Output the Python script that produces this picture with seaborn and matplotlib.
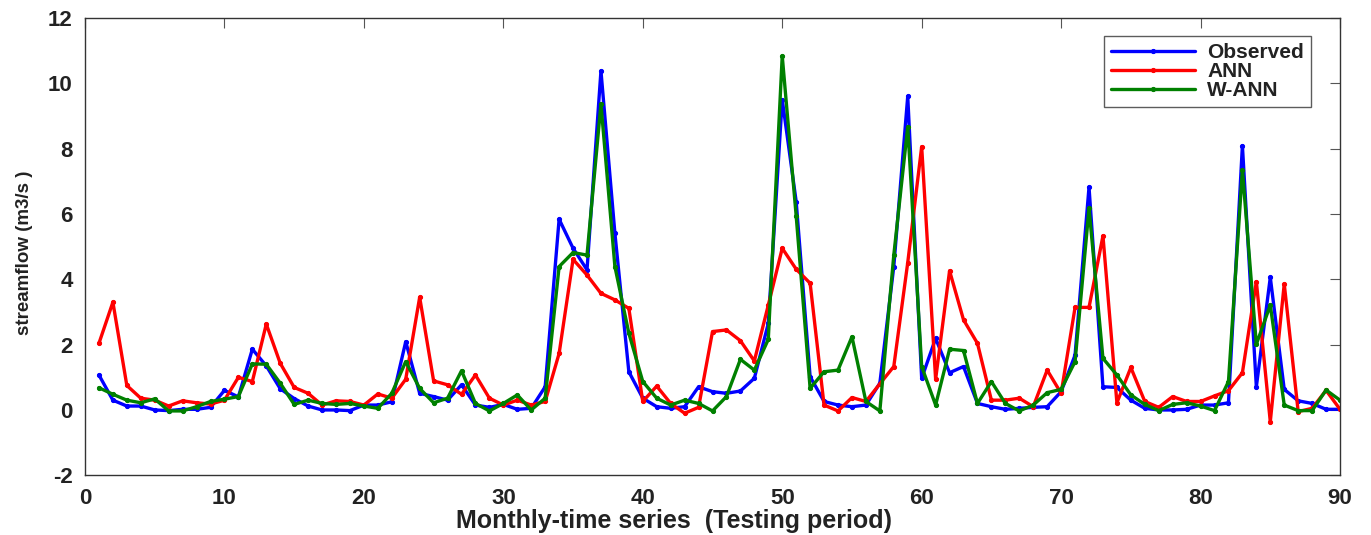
import matplotlib
matplotlib.use("Agg")
import matplotlib.pyplot as plt
import numpy as np
import pandas as pd
import seaborn as sns

sns.set_style("white")
plt.rcParams['font.family'] = ['Liberation Sans', 'DejaVu Sans']
plt.rcParams['axes.unicode_minus'] = False

# monthly index of the testing period
months = list(range(1, 91))

observed = [1.07, 0.3, 0.12, 0.12, 0.0, -0.02, 0.02, 0.02, 0.08, 0.6,
            0.4, 1.86, 1.35, 0.65, 0.35, 0.12, 0.0, 0.0, -0.02, 0.15,
            0.15, 0.25, 2.09, 0.51, 0.41, 0.3, 0.77, 0.15, 0.08, 0.17,
            0.02, 0.05, 0.71, 5.84, 4.95, 4.29, 10.38, 5.41, 1.17, 0.36,
            0.1, 0.05, 0.1, 0.71, 0.56, 0.51, 0.58, 0.97, 2.65, 9.5,
            6.38, 1.02, 0.26, 0.15, 0.1, 0.15, 0.82, 4.39, 9.6, 0.97,
            2.19, 1.14, 1.33, 0.2, 0.1, 0.02, 0.05, 0.08, 0.1, 0.56,
            1.68, 6.82, 0.71, 0.69, 0.3, 0.05, 0.0, 0.0, 0.02, 0.15,
            0.15, 0.22, 8.09, 0.71, 4.06, 0.63, 0.28, 0.2, 0.02, 0.02]

ann = [2.04, 3.3, 0.75, 0.36, 0.3, 0.12, 0.28, 0.22, 0.18, 0.3,
       1.0, 0.87, 2.63, 1.43, 0.69, 0.51, 0.15, 0.28, 0.26, 0.15,
       0.49, 0.36, 0.94, 3.45, 0.89, 0.77, 0.48, 1.07, 0.36, 0.15,
       0.3, 0.15, 0.26, 1.73, 4.61, 4.13, 3.57, 3.37, 3.11, 0.26,
       0.73, 0.2, -0.1, 0.08, 2.4, 2.45, 2.12, 1.5, 3.21, 4.95,
       4.31, 3.88, 0.15, -0.03, 0.38, 0.26, 0.8, 1.33, 4.51, 8.06,
       0.94, 4.26, 2.76, 2.04, 0.3, 0.3, 0.36, 0.1, 1.22, 0.51,
       3.14, 3.14, 5.33, 0.22, 1.3, 0.26, 0.08, 0.41, 0.26, 0.26,
       0.43, 0.59, 1.14, 3.93, -0.36, 3.86, -0.05, 0.05, 0.6, 0.02]

w_ann = [0.68, 0.48, 0.3, 0.22, 0.34, -0.03, -0.03, 0.1, 0.26, 0.33,
         0.41, 1.41, 1.4, 0.82, 0.17, 0.3, 0.2, 0.17, 0.2, 0.12,
         0.05, 0.51, 1.48, 0.66, 0.22, 0.36, 1.2, 0.2, -0.03, 0.2,
         0.46, 0.0, 0.36, 4.39, 4.82, 4.74, 9.37, 4.39, 2.35, 0.87,
         0.36, 0.15, 0.3, 0.2, -0.03, 0.41, 1.55, 1.22, 2.16, 10.84,
         5.94, 0.66, 1.17, 1.22, 2.24, 0.26, -0.03, 4.74, 8.67, 1.33,
         0.15, 1.86, 1.82, 0.2, 0.87, 0.2, -0.03, 0.15, 0.53, 0.63,
         1.48, 6.17, 1.58, 1.07, 0.46, 0.17, -0.02, 0.17, 0.22, 0.12,
         -0.02, 0.87, 7.35, 2.01, 3.21, 0.15, -0.02, -0.02, 0.61, 0.3]

series = {"Observed": (observed, "#0000ff"),
          "ANN": (ann, "#ff0000"),
          "W-ANN": (w_ann, "#008000")}

fig = plt.figure(figsize=(13.71, 5.35), dpi=100)
ax = fig.add_axes([0.062, 0.1116, 0.9154, 0.8548])

for name, (vals, col) in series.items():
    sns.lineplot(x=months, y=vals, ax=ax, color=col, label=name,
                 linewidth=2.4, marker=".", markersize=6,
                 markeredgecolor=col)

ax.set_xlim(0, 90)
ax.set_ylim(-2, 12)
ax.set_xticks(np.arange(0, 91, 10))
ax.set_yticks(np.arange(-2, 13, 2))
ax.tick_params(direction="in", top=True, right=True, labelsize=16,
               length=7, width=0.8, color="#555555", labelcolor="#222222")
ax.tick_params(axis="x", pad=9)
ax.tick_params(axis="y", pad=9)
for lab in ax.get_xticklabels() + ax.get_yticklabels():
    lab.set_fontweight("bold")
for sp in ax.spines.values():
    sp.set_color("#333333")
    sp.set_linewidth(1.0)

ax.set_xlabel("Monthly-time series  (Testing period)", fontsize=18,
              fontweight="bold", color="#222222")
ax.xaxis.set_label_coords(0.4697, -0.074)
ax.set_ylabel("streamflow (m3/s )", fontsize=13.5, fontweight="bold",
              color="#222222")
ax.yaxis.set_label_coords(-0.0414, 0.487)

leg = ax.legend(loc="upper right", bbox_to_anchor=(0.977, 0.961),
                borderaxespad=0, fancybox=False, edgecolor="#333333",
                handlelength=4.0, labelspacing=0.0, borderpad=0.35,
                handletextpad=0.6, prop={"weight": "bold", "size": 15})
leg.get_frame().set_linewidth(1.0)
for t in leg.get_texts():
    t.set_color("#222222")

fig.savefig("out.png", dpi=100)
